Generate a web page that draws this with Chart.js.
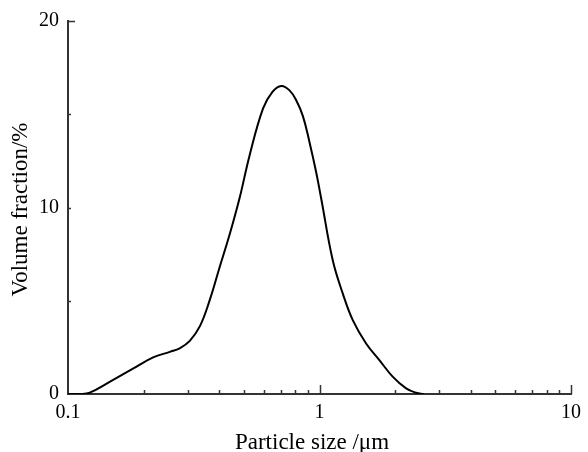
<!DOCTYPE html>
<html>
<head>
<meta charset="utf-8">
<script src="https://cdn.jsdelivr.net/npm/chart.js@4/dist/chart.umd.min.js"></script>
<style>
  html, body { margin: 0; padding: 0; background: #fff; }
  #wrap { width: 588px; height: 452px; position: relative; }
</style>
</head>
<body>
<div id="wrap"><canvas id="psd"></canvas></div>
<script>
// Particle size distribution
const particleSize = [0.1, 0.112, 0.122, 0.147, 0.182, 0.218, 0.254, 0.278, 0.305, 0.335, 0.366, 0.401, 0.44,
    0.482, 0.527, 0.596, 0.65, 0.705, 0.76, 0.808, 0.859, 0.913, 0.97, 1.016, 1.129, 1.238, 1.356,
    1.532, 1.73, 1.954, 2.21, 2.42, 2.6];
const volumeFraction = [0, 0, 0.07, 0.66, 1.37, 1.96, 2.26, 2.45, 2.85, 3.65, 5.03, 6.81, 8.59,
    10.55, 12.78, 15.3, 16.2, 16.52, 16.28, 15.75, 14.9, 13.49, 11.89, 10.47, 7.17, 5.38, 3.96,
    2.71, 1.82, 0.93, 0.3, 0.07, 0];

const xTickLabels = [0.1, 1, 10];
const yTickLabels = [0, 10, 20];
const yMinorTicks = [5, 10, 15];
const xTitle = 'Particle size /μm';
const yTitle = 'Volume fraction/%';

const serif = '"Liberation Serif", "Times New Roman", serif';
const axisColor = '#333';

// little inward tick marks + axis titles, like the original plot
const innerTicks = {
    id: 'innerTicks',
    afterDraw(chart){
        const { ctx, chartArea, scales: { x, y } } = chart;
        ctx.save();
        ctx.strokeStyle = axisColor;
        ctx.lineWidth = 1.5;
        ctx.beginPath();
        for (let d = 0.1; d < 10; d *= 10) {
            for (let m = 2; m <= 10; m++) {
                const v = d * m;
                const px = Math.round(x.getPixelForValue(v)) + 0.5;
                const len = (m === 10) ? 9 : 4;
                ctx.moveTo(px, chartArea.bottom);
                ctx.lineTo(px, chartArea.bottom - len);
            }
        }
        yMinorTicks.forEach(v=>{
            const py = Math.round(y.getPixelForValue(v)) + 0.5;
            ctx.moveTo(chartArea.left, py);
            ctx.lineTo(chartArea.left + 3, py);
        });
        const top = Math.round(y.getPixelForValue(20)) + 0.5;
        ctx.moveTo(chartArea.left, top);
        ctx.lineTo(chartArea.left + 7, top);
        ctx.stroke();

        ctx.fillStyle = '#000';
        ctx.font = '23px ' + serif;
        ctx.textAlign = 'center';
        ctx.textBaseline = 'alphabetic';
        ctx.fillText(xTitle, chartArea.left + 244, 449);
        ctx.translate(27, (chartArea.top + chartArea.bottom) / 2 + 2);
        ctx.rotate(-Math.PI / 2);
        ctx.fillText(yTitle, 0, 0);
        ctx.restore();
    }
};

new Chart(document.getElementById('psd'), {
    type: 'line',
    data: {
        datasets: [{
            data: particleSize.map((s, i) => ({ x: s, y: volumeFraction[i] })),
            borderColor: '#000',
            borderWidth: 2,
            pointRadius: 0,
            fill: false,
            tension: 0.4
        }]
    },
    options: {
        responsive: true,
        maintainAspectRatio: false,
        animation: false,
        layout: { padding: { top: 20, right: 16, left: 0, bottom: 0 } },
        plugins: { legend: { display: false }, tooltip: { enabled: false } },
        scales: {
            x: {
                type: 'logarithmic',
                min: 0.1,
                max: 10,
                grid: { display: false, drawTicks: false },
                border: { display: true, color: axisColor, width: 2 },
                afterBuildTicks: s => { s.ticks = xTickLabels.map(v => ({ value: v })); },
                afterFit: s => { s.height = 58; },
                ticks: {
                    padding: 7,
                    maxRotation: 0,
                    color: '#000',
                    font: { family: serif, size: 20 },
                    callback: v => String(v)
                }
            },
            y: {
                min: 0,
                max: 20,
                grid: { display: false, drawTicks: false },
                border: { display: true, color: axisColor, width: 2 },
                afterBuildTicks: s => { s.ticks = yTickLabels.map(v => ({ value: v })); },
                afterFit: s => { s.width = 68; },
                ticks: {
                    padding: 9,
                    color: '#000',
                    font: { family: serif, size: 20 }
                }
            }
        }
    },
    plugins: [innerTicks]
});
</script>
</body>
</html>
